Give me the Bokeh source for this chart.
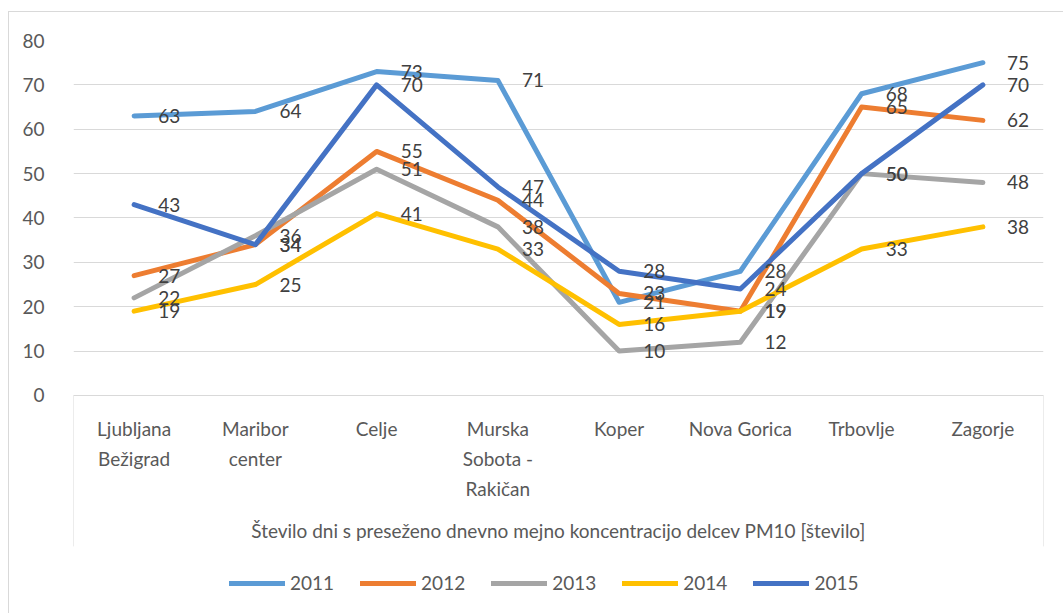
from bokeh.plotting import figure
from bokeh.models import FactorRange, Range1d, Legend, LegendItem
from bokeh.core.properties import value
from bokeh.embed import file_html
from bokeh.resources import INLINE

categories = ["Ljubljana\nBežigrad", "Maribor\ncenter", "Celje", "Murska\nSobota -\nRakičan",
              "Koper", "Nova Gorica", "Trbovlje", "Zagorje"]
years = ["2011", "2012", "2013", "2014", "2015"]
v2011 = [63, 64, 73, 71, 21, 28, 68, 75]
v2012 = [27, 34, 55, 44, 23, 19, 65, 62]
v2013 = [22, 36, 51, 38, 10, 12, 50, 48]
v2014 = [19, 25, 41, 33, 16, 19, 33, 38]
v2015 = [43, 34, 70, 47, 28, 24, 50, 70]
series = [v2011, v2012, v2013, v2014, v2015]
colors = ["#5B9BD5", "#ED7D31", "#A5A5A5", "#FFC000", "#4472C4"]
y_ticks = [0, 10, 20, 30, 40, 50, 60, 70, 80]
axis_title = "Število dni s preseženo dnevno mejno koncentracijo delcev PM10 [število]"

FONT = "Lato"
GRID = "#d9d9d9"

# frame extends below 0 so that the category axis box sits inside it
p = figure(x_range=FactorRange(factors=categories, range_padding=0),
           y_range=Range1d(-49.13, 80),
           frame_width=970, frame_height=573, output_backend="svg", toolbar_location=None,
           min_border_left=64, min_border_right=20, min_border_top=28, min_border_bottom=0)
p.margin = (11, 0, 0, 8)
p.styles = {"border-left": "1px solid " + GRID, "border-top": "1px solid " + GRID}
p.outline_line_color = None
p.background_fill_color = "white"
p.border_fill_color = "white"

p.ygrid.grid_line_color = GRID
p.ygrid.grid_line_width = 1
p.xgrid.grid_line_color = None

p.yaxis.ticker = y_ticks
p.yaxis.axis_line_color = None
p.yaxis.major_tick_line_color = None
p.yaxis.minor_tick_line_color = None
p.yaxis.major_label_standoff = 23
p.yaxis.major_label_text_font = FONT
p.yaxis.major_label_text_font_size = "19px"
p.yaxis.major_label_text_color = "#595959"

p.xaxis.fixed_location = 0
p.xaxis.axis_line_color = GRID
p.xaxis.axis_line_width = 1
p.xaxis.major_tick_line_color = None
p.xaxis.minor_tick_line_color = None
p.xaxis.major_label_standoff = 16
p.xaxis.major_label_text_font = FONT
p.xaxis.major_label_text_font_size = "19px"
p.xaxis.major_label_text_color = "#595959"
p.xaxis.major_label_text_line_height = 1.3
p.xaxis.axis_label = axis_title
p.xaxis.axis_label_standoff = 16
p.xaxis.axis_label_text_font = FONT
p.xaxis.axis_label_text_font_size = "19px"
p.xaxis.axis_label_text_font_style = "normal"
p.xaxis.axis_label_text_color = "#595959"

# sides of the category-axis box
p.segment(x0=[(categories[0], -0.5), (categories[-1], 0.5)], y0=[0, 0],
          x1=[(categories[0], -0.5), (categories[-1], 0.5)], y1=[-34, -34],
          line_color=GRID, line_width=1)

items = []
for name, vals, col in zip(years, series, colors):
    r = p.line(x=categories, y=vals, line_width=5, line_color=col,
               line_join="round", line_cap="round")
    items.append(LegendItem(label=name, renderers=[r]))

for vals in series:
    p.text(x=categories, y=vals, text=[str(v) for v in vals], x_offset=24,
           text_baseline="middle", text_align="left", text_font=value(FONT),
           text_font_size="19px", text_color="#404040")

legend = Legend(items=items, orientation="horizontal", location=(156, 19),
                glyph_width=56, glyph_height=20, label_standoff=5, spacing=26,
                border_line_color=None, background_fill_alpha=0,
                label_text_font=FONT, label_text_font_size="19px",
                label_text_color="#595959", margin=0, padding=4)
p.add_layout(legend, "center")

open("out.html", "w").write(file_html(p, INLINE))
